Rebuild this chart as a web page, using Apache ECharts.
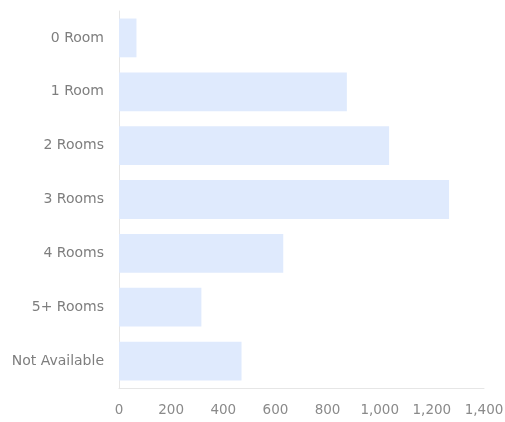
<!DOCTYPE html>
<html>
<head>
<meta charset="utf-8">
<style>
  html, body { margin: 0; padding: 0; background: #fff; }
  #chart { width: 505px; height: 422px; }
</style>
<script src="https://cdn.jsdelivr.net/npm/echarts@6/dist/echarts.min.js"></script>
</head>
<body>
<div id="chart"></div>
<script>
// categories top to bottom
const categories = ["0 Room", "1 Room", "2 Rooms", "3 Rooms", "4 Rooms", "5+ Rooms", "Not Available"];
const counts = [67, 874, 1036, 1266, 630, 316, 470];

const chart = echarts.init(document.getElementById("chart"));
const option = {
  animation: false,
  grid: { left: 119, right: 21, top: 11, bottom: 34, outerBoundsMode: "none" },
  xAxis: {
    type: "value",
    min: 0,
    max: 1400,
    interval: 200,
    splitLine: { show: false },
    axisLine: { show: true, lineStyle: { color: "#e6e6e6" } },
    axisTick: { show: false },
    axisLabel: {
      color: "#8a8a8a",
      fontSize: 13.5,
      margin: 15,
      fontFamily: "DejaVu Sans",
      formatter: v => v.toLocaleString("en-US")
    }
  },
  yAxis: {
    type: "category",
    inverse: true,
    data: categories,
    axisLine: { show: true, lineStyle: { color: "#e6e6e6" } },
    axisTick: { show: false },
    axisLabel: {
      color: "#7e7e7e",
      fontSize: 14,
      margin: 15,
      fontFamily: "DejaVu Sans"
    }
  },
  series: [
    {
      type: "bar",
      data: counts,
      barCategoryGap: "28%",
      itemStyle: { color: "#dfeafd" }
    }
  ]
};
chart.setOption(option);
</script>
</body>
</html>
